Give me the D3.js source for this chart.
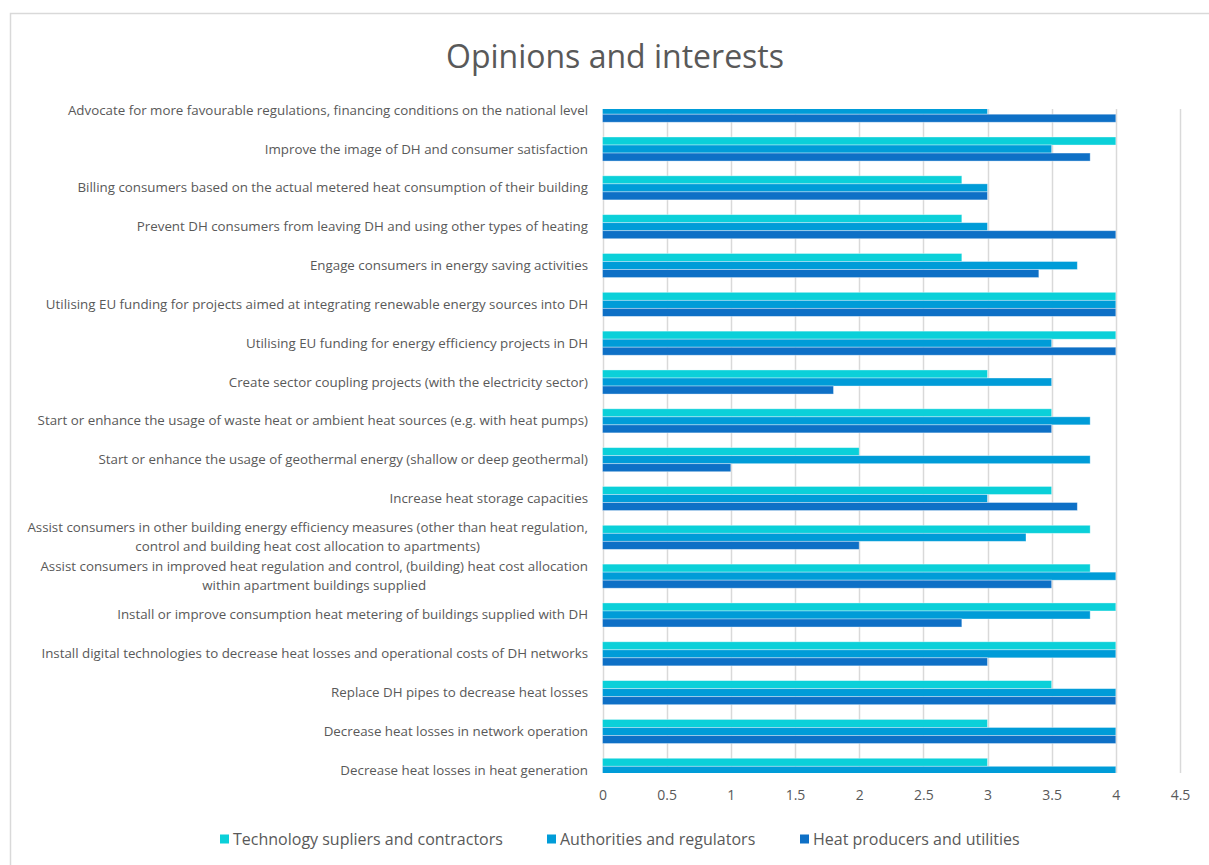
<!DOCTYPE html>
<html>
<head>
<meta charset="utf-8">
<script src="https://cdn.jsdelivr.net/npm/d3@7/dist/d3.min.js"></script>
<style>
  html, body { margin: 0; padding: 0; background: #fff; }
  svg { display: block; font-family: "Open Sans", "Noto Sans", sans-serif; }
</style>
</head>
<body>
<svg id="chart" width="1209" height="865"></svg>
<script>
// Categories, top to bottom (multi-line labels split with "\n")
const categories = [
  "Advocate for more favourable regulations, financing conditions on the national level",
  "Improve the image of DH and consumer satisfaction",
  "Billing consumers based on the actual metered heat consumption of their building",
  "Prevent DH consumers from leaving DH and using other types of heating",
  "Engage consumers in energy saving activities",
  "Utilising EU funding for projects aimed at integrating renewable energy sources into DH",
  "Utilising EU funding for energy efficiency projects in DH",
  "Create sector coupling projects (with the electricity sector)",
  "Start or enhance the usage of waste heat or ambient heat sources (e.g. with heat pumps)",
  "Start or enhance the usage of geothermal energy (shallow or deep geothermal)",
  "Increase heat storage capacities",
  "Assist consumers in other building energy efficiency measures (other than heat regulation,\ncontrol and building heat cost allocation to apartments)",
  "Assist consumers in improved heat regulation and control, (building) heat cost allocation\nwithin apartment buildings supplied",
  "Install or improve consumption heat metering of buildings supplied with DH",
  "Install digital technologies to decrease heat losses and operational costs of DH networks",
  "Replace DH pipes to decrease heat losses",
  "Decrease heat losses in network operation",
  "Decrease heat losses in heat generation"
];

const seriesNames = [
  "Technology supliers and contractors",
  "Authorities and regulators",
  "Heat producers and utilities"
];

const technologySuppliers = [4, 4, 2.8, 2.8, 2.8, 4, 4, 3, 3.5, 2, 3.5, 3.8, 3.8, 4, 4, 3.5, 3, 3];
const authorities         = [3, 3.5, 3, 3, 3.7, 4, 3.5, 3.5, 3.8, 3.8, 3, 3.3, 4, 3.8, 4, 4, 4, 4];
const heatProducers       = [4, 3.8, 3, 4, 3.4, 4, 4, 1.8, 3.5, 1, 3.7, 2, 3.5, 2.8, 3, 4, 4, 4];

const xTicks = [0, 0.5, 1, 1.5, 2, 2.5, 3, 3.5, 4, 4.5];

const colors = ["#0bd0d9", "#009cd8", "#0e70c6"];
const textColor = "#595959";

const svg = d3.select("#chart");

// Outer chart frame
svg.append("rect")
  .attr("x", 10.5).attr("y", 13.5)
  .attr("width", 1300).attr("height", 900)
  .attr("fill", "#fff")
  .attr("stroke", "#d9d9d9")
  .attr("stroke-width", 1.5);

// Title
svg.append("text")
  .attr("x", 615).attr("y", 68)
  .attr("text-anchor", "middle")
  .attr("font-size", 32)
  .attr("fill", textColor)
  .text("Opinions and interests");

// Plot area
const plotTop = 109, plotBottom = 773;
const x = d3.scaleLinear().domain([0, 4.5]).range([602.5, 1180]);

const step = 38.83;
const firstCenter = 110.2;
const y = d3.scaleBand()
  .domain(categories)
  .range([firstCenter - step / 2, firstCenter + step * (categories.length - 0.5)])
  .paddingInner(0.38)
  .paddingOuter(0.19);

const ySub = d3.scaleBand()
  .domain(seriesNames)
  .range([0, y.bandwidth()]);

// Gridlines
svg.append("g")
  .selectAll("line")
  .data(xTicks)
  .join("line")
  .attr("x1", d => Math.round(x(d)) + 0.5)
  .attr("x2", d => Math.round(x(d)) + 0.5)
  .attr("y1", plotTop)
  .attr("y2", plotBottom)
  .attr("stroke", "#d9d9d9")
  .attr("stroke-width", 1.5);

// Clip region for the bars
svg.append("defs").append("clipPath").attr("id", "plotClip")
  .append("rect")
  .attr("x", x(0) - 2).attr("y", plotTop)
  .attr("width", x(4.5) - x(0) + 4)
  .attr("height", plotBottom - plotTop);

const seriesValues = [technologySuppliers, authorities, heatProducers];
const barData = [];
categories.forEach((c, i) => {
  seriesNames.forEach((s, j) => {
    barData.push({ category: c, series: s, value: seriesValues[j][i], color: colors[j] });
  });
});

svg.append("g")
  .attr("clip-path", "url(#plotClip)")
  .selectAll("rect")
  .data(barData)
  .join("rect")
  .attr("x", x(0))
  .attr("y", d => y(d.category) + ySub(d.series))
  .attr("width", d => x(d.value) - x(0))
  .attr("height", ySub.bandwidth())
  .attr("fill", d => d.color)
  .attr("stroke", "rgba(255,255,255,0.45)")
  .attr("stroke-width", 0.8);

// X axis tick labels
const xAxis = d3.axisBottom(x).tickValues(xTicks).tickSize(0).tickPadding(0)
  .tickFormat(d3.format("~g"));
const xg = svg.append("g")
  .attr("transform", `translate(0, ${plotBottom + 27})`)
  .call(xAxis);
xg.select(".domain").remove();
xg.selectAll("text")
  .attr("font-size", 14)
  .attr("fill", textColor)
  .attr("font-family", "'Open Sans', 'Noto Sans', sans-serif")
  .attr("dy", 0);

// Category labels (right edge at labelRight; multi-line labels centred on their widest line)
const labelRight = 588;
const lineHeight = 19;
const labelG = svg.append("g")
  .attr("font-size", 13.33)
  .attr("fill", textColor);

categories.forEach(c => {
  const lines = c.split("\n");
  const cy = y(c) + y.bandwidth() / 2;
  const t = labelG.append("text");
  lines.forEach(ln => {
    t.append("tspan").text(ln);
  });
  if (lines.length === 1) {
    t.attr("text-anchor", "end")
      .attr("x", labelRight)
      .attr("y", cy + 4.5);
    t.select("tspan").attr("x", labelRight);
  } else {
    const spans = t.selectAll("tspan").nodes();
    const maxW = d3.max(spans, n => n.getComputedTextLength());
    const cx = labelRight - maxW / 2;
    const y0 = cy + 4.5 - (lines.length - 1) * lineHeight / 2;
    t.attr("text-anchor", "middle");
    spans.forEach((n, k) => {
      d3.select(n).attr("x", cx).attr("y", y0 + k * lineHeight);
    });
  }
});

// Legend
const legendItems = [
  { name: seriesNames[0], color: colors[0], x: 220 },
  { name: seriesNames[1], color: colors[1], x: 547 },
  { name: seriesNames[2], color: colors[2], x: 800 }
];
const lg = svg.append("g");
legendItems.forEach(it => {
  lg.append("rect")
    .attr("x", it.x).attr("y", 834.5)
    .attr("width", 9).attr("height", 9)
    .attr("fill", it.color);
  lg.append("text")
    .attr("x", it.x + 13).attr("y", 845)
    .attr("font-size", 16)
    .attr("fill", textColor)
    .text(it.name);
});
</script>
</body>
</html>
